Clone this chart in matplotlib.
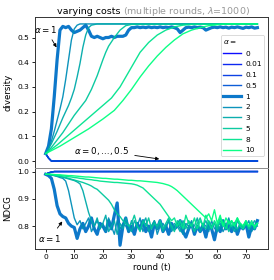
import numpy as np
import matplotlib
matplotlib.use("Agg")
import matplotlib.pyplot as plt

alphas = ["0", "0.01", "0.1", "0.5", "1", "2", "3", "5", "8", "10"]

# diversity, alpha = 0 ... 0.5 (all collapse to zero)
div_low_t = [0, 1, 2, 74]
div_low = [0.03, 0.012, 0.0, 0.0]

# diversity, alpha = 1 (per round)
div_a1 = [0.03, 0.06, 0.13, 0.26, 0.41, 0.53, 0.545, 0.54, 0.545, 0.53,
          0.52, 0.525, 0.53, 0.54, 0.55, 0.53, 0.505, 0.50, 0.505, 0.50,
          0.495, 0.50, 0.50, 0.505, 0.50, 0.505, 0.505, 0.505, 0.51, 0.53,
          0.54, 0.54, 0.543, 0.54, 0.542, 0.54, 0.543, 0.54, 0.542, 0.54,
          0.543, 0.54, 0.542, 0.54, 0.543, 0.54, 0.535, 0.52, 0.53, 0.54,
          0.542, 0.54, 0.543, 0.54, 0.542, 0.54, 0.53, 0.535, 0.54, 0.542,
          0.54, 0.543, 0.54, 0.542, 0.538, 0.542, 0.54, 0.543, 0.54, 0.537,
          0.542, 0.54, 0.543, 0.538, 0.54]

# diversity, smooth curves for larger alpha
div_a2_t = [0, 1, 2, 3, 4, 5, 6, 7, 8, 9, 10, 11, 12, 74]
div_a2 = [0.03, 0.05, 0.08, 0.12, 0.165, 0.21, 0.26, 0.33, 0.41, 0.49, 0.535, 0.55, 0.555, 0.555]
div_a3_t = [0, 2, 4, 6, 8, 9, 10, 11, 12, 13, 14, 15, 16, 18, 74]
div_a3 = [0.03, 0.07, 0.12, 0.175, 0.225, 0.255, 0.29, 0.34, 0.395, 0.46, 0.51, 0.54, 0.55, 0.555, 0.555]
div_a5_t = [0, 2, 4, 6, 8, 10, 12, 14, 16, 18, 20, 21, 22, 24, 26, 28, 30, 74]
div_a5 = [0.03, 0.055, 0.085, 0.115, 0.15, 0.185, 0.215, 0.245, 0.29, 0.345, 0.41, 0.44, 0.465,
          0.50, 0.53, 0.548, 0.553, 0.555]
div_a8_t = [0, 4, 8, 12, 16, 20, 23, 26, 30, 33, 36, 39, 42, 45, 48, 51, 74]
div_a8 = [0.03, 0.065, 0.105, 0.145, 0.185, 0.225, 0.255, 0.30, 0.38, 0.44, 0.48, 0.51, 0.53,
          0.543, 0.55, 0.553, 0.555]
div_a10_t = [0, 5, 10, 15, 20, 24, 27, 30, 33, 36, 39, 42, 45, 48, 51, 54, 57, 60, 63, 74]
div_a10 = [0.03, 0.06, 0.095, 0.13, 0.17, 0.205, 0.245, 0.29, 0.34, 0.385, 0.425, 0.46, 0.49,
           0.515, 0.53, 0.54, 0.548, 0.552, 0.555, 0.555]

# NDCG, alpha = 0 ... 0.5
ndcg_low_t = [0, 1, 2, 3, 74]
ndcg_low = [0.99, 0.995, 0.998, 1.0, 1.0]

# NDCG per round
ndcg_a1 = [0.99, 0.985, 0.975, 0.935, 0.875, 0.845, 0.835, 0.83, 0.81, 0.80,
           0.795, 0.755, 0.79, 0.81, 0.78, 0.80, 0.83, 0.79, 0.77, 0.81,
           0.80, 0.78, 0.82, 0.79, 0.84, 0.885, 0.73, 0.80, 0.83, 0.78,
           0.80, 0.77, 0.81, 0.79, 0.82, 0.78, 0.80, 0.76, 0.81, 0.79,
           0.82, 0.78, 0.80, 0.77, 0.81, 0.79, 0.80, 0.82, 0.78, 0.76,
           0.79, 0.81, 0.77, 0.80, 0.78, 0.80, 0.76, 0.81, 0.79, 0.75,
           0.80, 0.78, 0.82, 0.79, 0.80, 0.78, 0.81, 0.77, 0.80, 0.79,
           0.81, 0.76, 0.80, 0.79, 0.82]
ndcg_a2 = [0.99, 0.99, 0.987, 0.985, 0.982, 0.978, 0.975, 0.965, 0.93, 0.88,
           0.83, 0.805, 0.82, 0.79, 0.81, 0.83, 0.78, 0.80, 0.82, 0.79,
           0.81, 0.78, 0.83, 0.80, 0.77, 0.82, 0.79, 0.81, 0.80, 0.78,
           0.82, 0.79, 0.80, 0.83, 0.78, 0.81, 0.79, 0.80, 0.82, 0.77,
           0.80, 0.81, 0.79, 0.82, 0.78, 0.80, 0.81, 0.79, 0.77, 0.81,
           0.80, 0.82, 0.78, 0.80, 0.79, 0.81, 0.80, 0.78, 0.82, 0.79,
           0.80, 0.81, 0.78, 0.80, 0.83, 0.79, 0.80, 0.78, 0.81, 0.79,
           0.80, 0.82, 0.78, 0.80, 0.81]
ndcg_a3 = [0.99, 0.99, 0.988, 0.986, 0.984, 0.982, 0.979, 0.976, 0.973, 0.97,
           0.967, 0.962, 0.955, 0.93, 0.89, 0.85, 0.82, 0.80, 0.83, 0.79,
           0.81, 0.84, 0.78, 0.80, 0.82, 0.77, 0.81, 0.79, 0.83, 0.80,
           0.78, 0.82, 0.80, 0.79, 0.81, 0.83, 0.78, 0.80, 0.82, 0.79,
           0.81, 0.78, 0.80, 0.82, 0.79, 0.81, 0.80, 0.78, 0.82, 0.80,
           0.79, 0.81, 0.80, 0.83, 0.78, 0.80, 0.82, 0.79, 0.80, 0.81,
           0.78, 0.80, 0.82, 0.79, 0.81, 0.80, 0.78, 0.82, 0.80, 0.79,
           0.81, 0.79, 0.80, 0.82, 0.80]
ndcg_a5 = [0.99, 0.99, 0.988, 0.986, 0.984, 0.982, 0.98, 0.978, 0.975, 0.972,
           0.969, 0.966, 0.963, 0.96, 0.956, 0.952, 0.947, 0.94, 0.935, 0.925,
           0.915, 0.905, 0.895, 0.88, 0.86, 0.845, 0.835, 0.82, 0.81, 0.80,
           0.81, 0.84, 0.80, 0.78, 0.82, 0.80, 0.83, 0.79, 0.81, 0.80,
           0.82, 0.79, 0.81, 0.83, 0.80, 0.78, 0.82, 0.80, 0.81, 0.79,
           0.82, 0.80, 0.78, 0.81, 0.83, 0.80, 0.79, 0.82, 0.80, 0.81,
           0.79, 0.82, 0.80, 0.81, 0.78, 0.82, 0.80, 0.79, 0.81, 0.80,
           0.82, 0.79, 0.81, 0.80, 0.81]
ndcg_a8 = [0.99, 0.99, 0.989, 0.988, 0.987, 0.986, 0.984, 0.983, 0.981, 0.98,
           0.978, 0.977, 0.975, 0.974, 0.972, 0.971, 0.97, 0.968, 0.967, 0.965,
           0.964, 0.963, 0.962, 0.961, 0.96, 0.96, 0.959, 0.958, 0.957, 0.956,
           0.955, 0.953, 0.95, 0.945, 0.94, 0.93, 0.92, 0.91, 0.90, 0.89,
           0.88, 0.865, 0.85, 0.835, 0.82, 0.83, 0.80, 0.82, 0.79, 0.84,
           0.81, 0.80, 0.83, 0.79, 0.82, 0.80, 0.84, 0.81, 0.79, 0.82,
           0.80, 0.83, 0.81, 0.79, 0.82, 0.80, 0.81, 0.83, 0.80, 0.79,
           0.81, 0.80, 0.82, 0.79, 0.81]
ndcg_a10 = [0.99, 0.99, 0.99, 0.989, 0.988, 0.988, 0.987, 0.986, 0.985, 0.985,
            0.984, 0.983, 0.982, 0.981, 0.98, 0.98, 0.979, 0.978, 0.977, 0.976,
            0.975, 0.975, 0.974, 0.973, 0.972, 0.972, 0.971, 0.97, 0.969, 0.968,
            0.968, 0.967, 0.966, 0.966, 0.965, 0.964, 0.963, 0.962, 0.961, 0.96,
            0.958, 0.956, 0.953, 0.95, 0.945, 0.938, 0.93, 0.92, 0.91, 0.90,
            0.89, 0.88, 0.87, 0.86, 0.85, 0.84, 0.83, 0.845, 0.82, 0.86,
            0.81, 0.84, 0.80, 0.83, 0.81, 0.82, 0.80, 0.83, 0.81, 0.80,
            0.82, 0.80, 0.81, 0.80, 0.81]

plt.rcParams["font.family"] = "DejaVu Sans"
fig = plt.figure(figsize=(2.74, 2.8), dpi=100)
gs = fig.add_gridspec(2, 1, height_ratios=[1.86, 1], hspace=0,
                      left=0.128, right=0.978, top=0.939, bottom=0.111)
ax1 = fig.add_subplot(gs[0])
ax2 = fig.add_subplot(gs[1], sharex=ax1)

colors = plt.cm.winter(np.linspace(0, 1, len(alphas)))
rounds = np.arange(75)

div_series = {
    "1": (rounds, div_a1),
    "2": (div_a2_t, div_a2),
    "3": (div_a3_t, div_a3),
    "5": (div_a5_t, div_a5),
    "8": (div_a8_t, div_a8),
    "10": (div_a10_t, div_a10),
}
ndcg_series = {
    "1": (rounds, ndcg_a1),
    "2": (rounds, ndcg_a2),
    "3": (rounds, ndcg_a3),
    "5": (rounds, ndcg_a5),
    "8": (rounds, ndcg_a8),
    "10": (rounds, ndcg_a10),
}

for a, c in zip(alphas, colors):
    lw = 2.3 if a == "1" else 1.0
    if a in div_series:
        dt, dv = div_series[a]
        nt, nv = ndcg_series[a]
    else:
        dt, dv = div_low_t, div_low
        nt, nv = ndcg_low_t, ndcg_low
    ax1.plot(dt, dv, color=c, lw=lw, label=a, alpha=0.95)
    ax2.plot(nt, nv, color=c, lw=lw, alpha=0.95)

ax1.set_ylabel("diversity", fontsize=6.2)
ax2.set_ylabel("NDCG", fontsize=6.2)
ax2.set_xlabel("round (t)", fontsize=6.2, labelpad=2)
ax1.set_yticks([0.0, 0.1, 0.2, 0.3, 0.4, 0.5])
ax2.set_yticks([0.8, 0.9, 1.0])
ax2.set_xticks([0, 10, 20, 30, 40, 50, 60, 70])
ax1.tick_params(labelbottom=False, bottom=False)
for ax in (ax1, ax2):
    ax.tick_params(labelsize=5.4, length=2.5, width=0.6, pad=1.5)
    for s in ax.spines.values():
        s.set_linewidth(0.7)
        s.set_color("0.2")
ax1.spines["bottom"].set_color("0.55")
ax2.spines["top"].set_color("0.55")

leg = ax1.legend(title=r"$\alpha=$", loc="lower right", bbox_to_anchor=(0.985, 0.08),
                 borderaxespad=0, fontsize=5.3, title_fontsize=5.3,
                 handlelength=2.4, labelspacing=0.62, borderpad=0.35,
                 handletextpad=0.6, alignment="left", framealpha=1)
leg.get_frame().set_linewidth(0.5)

arrow = dict(arrowstyle="-|>", color="black", lw=0.6, mutation_scale=5,
             shrinkA=2, shrinkB=0)
ax1.annotate(r"$\alpha=1$", xy=(3.8, 0.46), xytext=(0.0, 0.534),
             fontsize=6.3, ha="center", va="center", arrowprops=arrow)
ax1.annotate(r"$\alpha=0,\ldots,0.5$", xy=(39.7, 0.008), xytext=(19.6, 0.042),
             fontsize=6.3, ha="center", va="center", arrowprops=arrow)
ax2.annotate(r"$\alpha=1$", xy=(5.8, 0.817), xytext=(1.4, 0.754),
             fontsize=6.3, ha="center", va="center", arrowprops=arrow)

ax1.text(0.365, 1.022, "varying costs", transform=ax1.transAxes,
         ha="right", va="baseline", fontsize=6.8, color="black")
ax1.text(0.365, 1.022, r" (multiple rounds, $\lambda$=1000)", transform=ax1.transAxes,
         ha="left", va="baseline", fontsize=6.8, color="0.6")

fig.savefig("out.png", dpi=100)
